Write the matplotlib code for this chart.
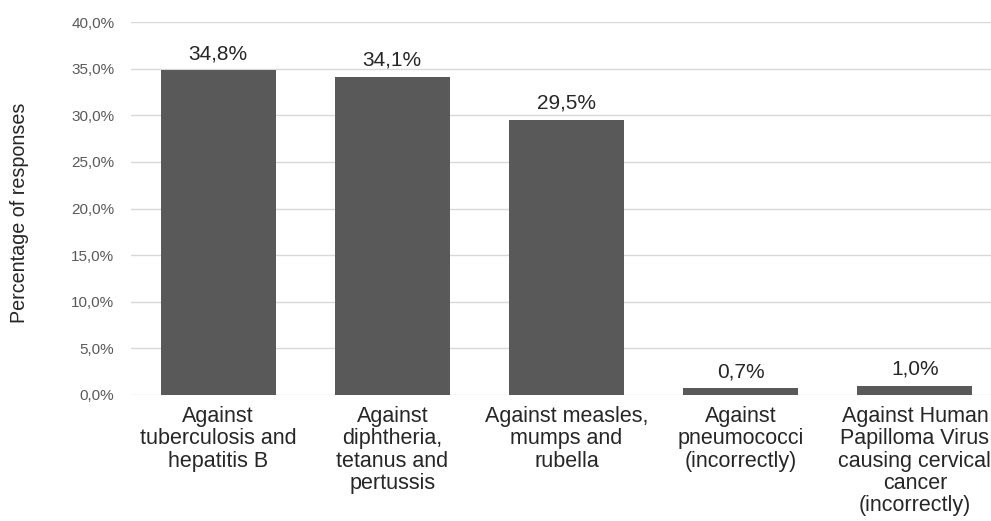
import numpy as np
import matplotlib.pyplot as plt
from matplotlib.ticker import FuncFormatter

plt.rcParams['font.family'] = ['Liberation Sans', 'DejaVu Sans']

categories = [
    "Against\ntuberculosis and\nhepatitis B",
    "Against\ndiphtheria,\ntetanus and\npertussis",
    "Against measles,\nmumps and\nrubella",
    "Against\npneumococci\n(incorrectly)",
    "Against Human\nPapilloma Virus\ncausing cervical\ncancer\n(incorrectly)",
]
values = [34.8, 34.1, 29.5, 0.7, 1.0]
value_labels = ["34,8%", "34,1%", "29,5%", "0,7%", "1,0%"]

fig = plt.figure(figsize=(9.91, 5.21), dpi=100)
# plot area runs a little past the right edge, so the last label gets cut
ax = fig.add_axes([131/991, 126/521, 871/991, 373/521])

x = np.arange(len(categories))
bars = ax.bar(x, values, width=0.66, color='#595959', zorder=3)

for b, lab in zip(bars, value_labels):
    ax.annotate(lab, (b.get_x() + b.get_width()/2, b.get_height()),
                xytext=(0, 8), textcoords='offset points',
                ha='center', va='baseline', fontsize=15, color='#262626')

ax.set_xlim(-0.5, len(categories) - 0.5)
ax.set_ylim(0, 40)
ax.set_yticks(np.arange(0, 41, 5))
ax.yaxis.set_major_formatter(FuncFormatter(lambda v, p: f"{v:.1f}%".replace('.', ',')))
ax.set_xticks(x)
ax.set_xticklabels(categories, fontsize=15.5, color='#262626', linespacing=1.08)

ax.tick_params(axis='y', length=0, pad=12, labelsize=11, labelcolor='#595959')
ax.tick_params(axis='x', length=0, pad=8)
ax.grid(axis='y', color='#d9d9d9', linewidth=1, zorder=0)
for s in ax.spines.values():
    s.set_visible(False)

fig.text(20/991, 1 - 213/521, "Percentage of responses", rotation=90,
         ha='center', va='center', fontsize=14.2, color='#262626')

fig.savefig('out.png', dpi=100)
